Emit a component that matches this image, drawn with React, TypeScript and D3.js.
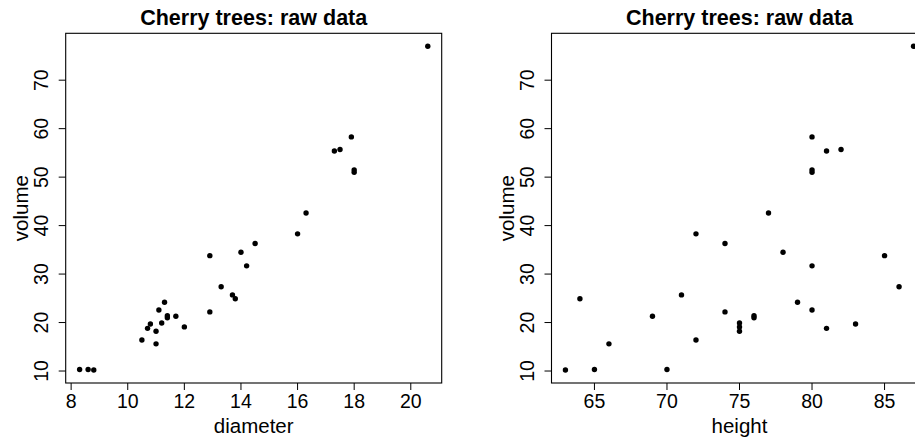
import React from "react";
import * as d3 from "d3";

const diameter = [8.3, 8.6, 8.8, 10.5, 10.7, 10.8, 11.0, 11.0, 11.1, 11.2, 11.3, 11.4, 11.4, 11.7, 12.0, 12.9, 12.9, 13.3, 13.7, 13.8, 14.0, 14.2, 14.5, 16.0, 16.3, 17.3, 17.5, 17.9, 18.0, 18.0, 20.6];
const height = [70, 65, 63, 72, 81, 83, 66, 75, 80, 75, 79, 76, 76, 69, 75, 74, 85, 86, 71, 64, 78, 80, 74, 72, 77, 81, 82, 80, 80, 80, 87];
const volume = [10.3, 10.3, 10.2, 16.4, 18.8, 19.7, 15.6, 18.2, 22.6, 19.9, 24.2, 21.0, 21.4, 21.3, 19.1, 22.2, 33.8, 27.4, 25.7, 24.9, 34.5, 31.7, 36.3, 38.3, 42.6, 55.4, 55.7, 58.3, 51.5, 51.0, 77.0];

const diameterTicks = [8, 10, 12, 14, 16, 18, 20];
const heightTicks = [65, 70, 75, 80, 85];
const volumeTicks = [10, 20, 30, 40, 50, 60, 70];

const title = "Cherry trees: raw data";

const FONT = "'Liberation Sans', Arial, Helvetica, sans-serif";

function ext(vals: number[]): [number, number] {
  const [a, b] = d3.extent(vals) as [number, number];
  const pad = (b - a) * 0.04;
  return [a - pad, b + pad];
}

function Panel({ left, xs, ys, xTicks, yTicks, xLabel, yLabel }: any) {
  const W = 376;
  const top = 33.3;
  const bottom = 383;
  const x = d3.scaleLinear().domain(ext(xs)).range([left, left + W]);
  const y = d3.scaleLinear().domain(ext(ys)).range([bottom, top]);
  const cx = left + W / 2;
  const cy = (top + bottom) / 2;
  return (
    <g>
      <text x={cx} y={25} textAnchor="middle" fontFamily={FONT} fontWeight="bold" fontSize={21.5}>
        {title}
      </text>
      <rect x={left} y={top} width={W} height={bottom - top} fill="none" stroke="#000" strokeWidth={1.1} />
      {xTicks.map((t: number) => (
        <g key={"x" + t}>
          <line x1={x(t)} x2={x(t)} y1={bottom} y2={bottom + 7} stroke="#000" strokeWidth={1} />
          <text x={x(t)} y={408} textAnchor="middle" fontFamily={FONT} fontSize={19.5}>
            {t}
          </text>
        </g>
      ))}
      {yTicks.map((t: number) => (
        <g key={"y" + t}>
          <line x1={left - 7} x2={left} y1={y(t)} y2={y(t)} stroke="#000" strokeWidth={1} />
          <text
            transform={`translate(${left - 17.5},${y(t)}) rotate(-90)`}
            textAnchor="middle"
            fontFamily={FONT}
            fontSize={19.5}
          >
            {t}
          </text>
        </g>
      ))}
      <text x={cx} y={433} textAnchor="middle" fontFamily={FONT} fontSize={20.5}>
        {xLabel}
      </text>
      <text
        transform={`translate(${left - 38},${cy}) rotate(-90)`}
        textAnchor="middle"
        fontFamily={FONT}
        fontSize={20.5}
      >
        {yLabel}
      </text>
      {xs.map((v: number, i: number) => (
        <circle key={i} cx={x(v)} cy={y(ys[i])} r={2.7} fill="#000" />
      ))}
    </g>
  );
}

export default function App() {
  return (
    <svg
      width={915}
      height={440}
      style={{ position: "absolute", left: 0, top: 0, background: "#fff" }}
    >
      <rect x={0} y={0} width={915} height={440} fill="#fff" />
      <Panel left={65.7} xs={diameter} ys={volume} xTicks={diameterTicks} yTicks={volumeTicks} xLabel="diameter" yLabel="volume" />
      <Panel left={551.5} xs={height} ys={volume} xTicks={heightTicks} yTicks={volumeTicks} xLabel="height" yLabel="volume" />
    </svg>
  );
}
